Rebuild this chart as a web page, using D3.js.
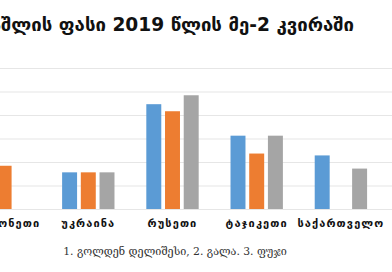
<!DOCTYPE html>
<html>
<head>
<meta charset="utf-8">
<script src="https://cdn.jsdelivr.net/npm/d3@7"></script>
<style>
  body { margin: 0; background: #fff; overflow: hidden; }
  svg { display: block; }
</style>
</head>
<body>
<script>
// apple prices by country, week 2 of 2019
const titleText = "ვაშლის ფასი 2019 წლის მე-2 კვირაში";
const titleCut = "ვა";  // part of the title that falls off the left edge
const countries = ["პოლონეთი", "უკრაინა", "რუსეთი", "ტაჯიკეთი", "საქართველო"];
const varieties = ["გოლდენ დელიშესი", "გალა", "ფუჯი"];
const golden = [0.95, 0.78, 2.23, 1.56, 1.14];
const gala = [0.92, 0.78, 2.08, 1.18, null];
const fuji = [null, 0.78, 2.42, 1.56, 0.86];
const yTicks = [0, 0.5, 1, 1.5, 2, 2.5, 3];
const footnote = "1. გოლდენ დელიშესი, 2. გალა. 3. ფუჯი";

const colors = ["#5b9bd5", "#ed7d31", "#a5a5a5"];

const width = 392, height = 272;
const svg = d3.select("body").append("svg")
    .attr("width", width)
    .attr("height", height);

const rows = countries.map((c, i) => ({
    country: c,
    values: [golden[i], gala[i], fuji[i]]
}));

const x0 = d3.scaleBand()
    .domain(countries)
    .range([-38, 383])
    .paddingInner(0.378)
    .paddingOuter(0.189);

const x1 = d3.scaleBand()
    .domain(d3.range(varieties.length))
    .range([0, x0.bandwidth()])
    .paddingInner(0.2);

const y = d3.scaleLinear()
    .domain([0, 3])
    .range([209, 68]);

// gridlines
const grid = svg.append("g")
    .attr("transform", "translate(-50,0)")
    .call(d3.axisLeft(y).tickValues(yTicks).tickSize(-width - 100).tickFormat(""));
grid.select(".domain").remove();
grid.selectAll("line").attr("stroke", "#e6e6e6").attr("stroke-width", 1.2);

// bars
const groups = svg.append("g").selectAll("g")
    .data(rows)
    .join("g")
    .attr("transform", d => `translate(${x0(d.country)},0)`);

groups.selectAll("rect")
    .data(d => d.values.map((v, k) => ({k: k, v: v})).filter(e => e.v != null))
    .join("rect")
    .attr("x", e => x1(e.k))
    .attr("y", e => y(e.v))
    .attr("width", x1.bandwidth())
    .attr("height", e => y(0) - y(e.v))
    .attr("fill", e => colors[e.k]);

// category labels
const xAxis = svg.append("g")
    .attr("transform", "translate(0,209)")
    .call(d3.axisBottom(x0).tickSize(0).tickPadding(10));
xAxis.select(".domain").attr("stroke", "#e6e6e6");
xAxis.selectAll("text")
    .attr("font-family", "DejaVu Sans")
    .attr("font-size", 11)
    .attr("font-weight", "bold")
    .attr("letter-spacing", 1.1)
    .attr("fill", "#111");

// title, left part cut off like in the picture
const titleSize = 18.6;
const measure = svg.append("text")
    .attr("font-family", "DejaVu Sans")
    .attr("font-size", titleSize)
    .attr("font-weight", "bold")
    .text(titleCut);
const cutWidth = measure.node().getComputedTextLength();
measure.remove();

svg.append("text")
    .attr("x", 1 - cutWidth)
    .attr("y", 31)
    .attr("font-family", "DejaVu Sans")
    .attr("font-size", titleSize)
    .attr("font-weight", "bold")
    .attr("fill", "#111")
    .text(titleText);

svg.append("text")
    .attr("x", 175)
    .attr("y", 255)
    .attr("text-anchor", "middle")
    .attr("font-family", "DejaVu Serif")
    .attr("font-size", 10.8)
    .attr("fill", "#333")
    .text(footnote);
</script>
</body>
</html>
